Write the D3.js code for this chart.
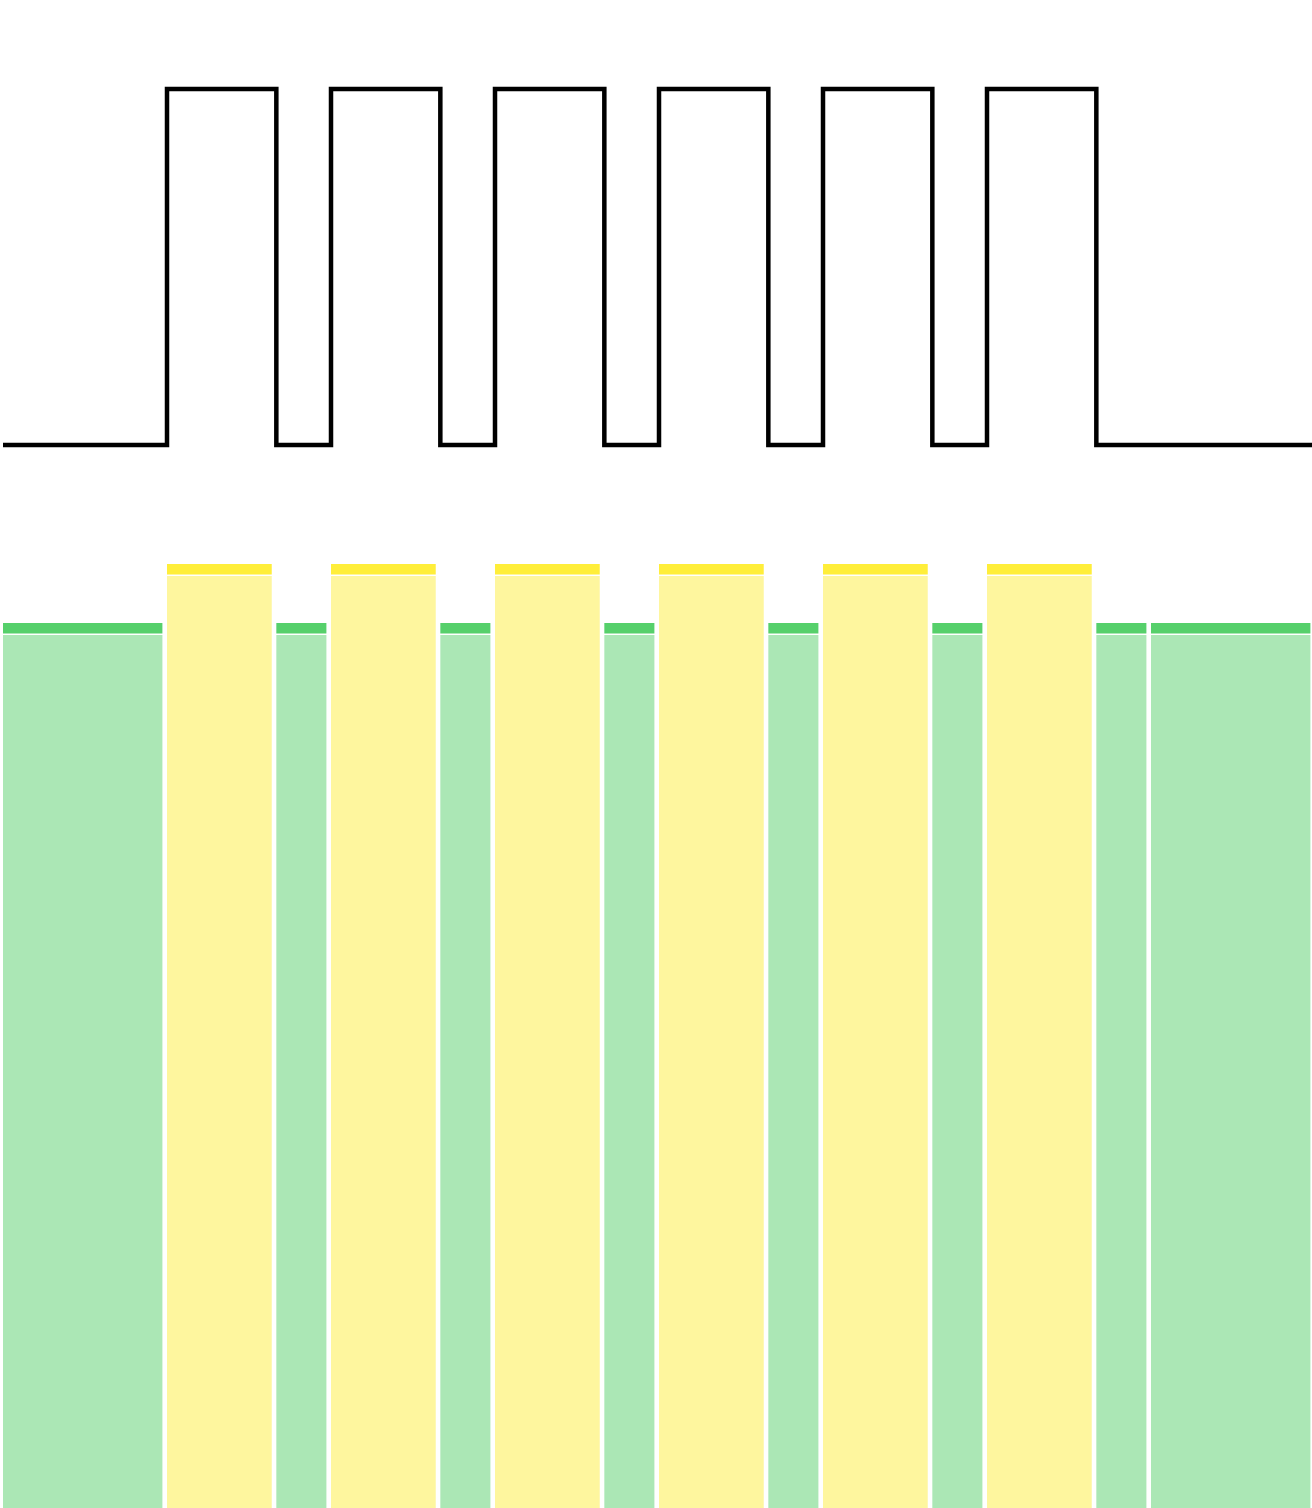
<!DOCTYPE html>
<html>
<head>
<meta charset="utf-8">
<script src="https://cdn.jsdelivr.net/npm/d3@7"></script>
<style>
  html, body { margin: 0; padding: 0; background: #ffffff; }
  svg { display: block; }
</style>
</head>
<body>
<div id="chart"></div>
<script>
// segment lengths (time units) and the state of each segment
var durations = [3, 2, 1, 2, 1, 2, 1, 2, 1, 2, 1, 2, 1, 3];
var states    = [0, 1, 0, 1, 0, 1, 0, 1, 0, 1, 0, 1, 0, 0];
// bar level for each state
var stateLevels = [15, 16];
var stateNames  = ["off", "on"];

var width = 1312, height = 1508;

var svg = d3.select("#chart").append("svg")
  .attr("width", width)
  .attr("height", height);

// build segment start/end from durations
var t = 0;
var segments = durations.map(function (d, i) {
  var s = { start: t, end: t + d, state: states[i], name: stateNames[states[i]] };
  t += d;
  return s;
});

var x = d3.scaleLinear().domain([0, t]).range([3, width + 3]);

// --- step line on top
var yLine = d3.scaleLinear().domain([0, 1]).range([445, 89]);

var linePoints = segments.map(function (s) { return [s.start, s.state]; });
linePoints.push([t, states[states.length - 1]]);

var line = d3.line()
  .x(function (d) { return x(d[0]); })
  .y(function (d) { return yLine(d[1]); })
  .curve(d3.curveStepAfter);

svg.append("path")
  .datum(linePoints)
  .attr("d", line)
  .attr("fill", "none")
  .attr("stroke", "#000000")
  .attr("stroke-width", 4.5)
  .attr("stroke-linejoin", "miter");

// --- bars below
var yBar = d3.scaleLinear().domain([0, 16]).range([height, 564]);
var capColor  = ["#56d06b", "#ffee3a"];
var fillColor = ["#abe7b5", "#fef69e"];
var gap = 4.6, capH = 10.5, capGap = 1.5;

var bars = svg.append("g").selectAll("g")
  .data(segments)
  .join("g");

bars.append("rect")
  .attr("x", function (d) { return x(d.start); })
  .attr("width", function (d) { return x(d.end) - x(d.start) - gap; })
  .attr("y", function (d) { return yBar(stateLevels[d.state]) + capH + capGap; })
  .attr("height", function (d) { return height - yBar(stateLevels[d.state]) - capH - capGap; })
  .attr("fill", function (d) { return fillColor[d.state]; });

bars.append("rect")
  .attr("x", function (d) { return x(d.start); })
  .attr("width", function (d) { return x(d.end) - x(d.start) - gap; })
  .attr("y", function (d) { return yBar(stateLevels[d.state]); })
  .attr("height", capH)
  .attr("fill", function (d) { return capColor[d.state]; });
</script>
</body>
</html>
